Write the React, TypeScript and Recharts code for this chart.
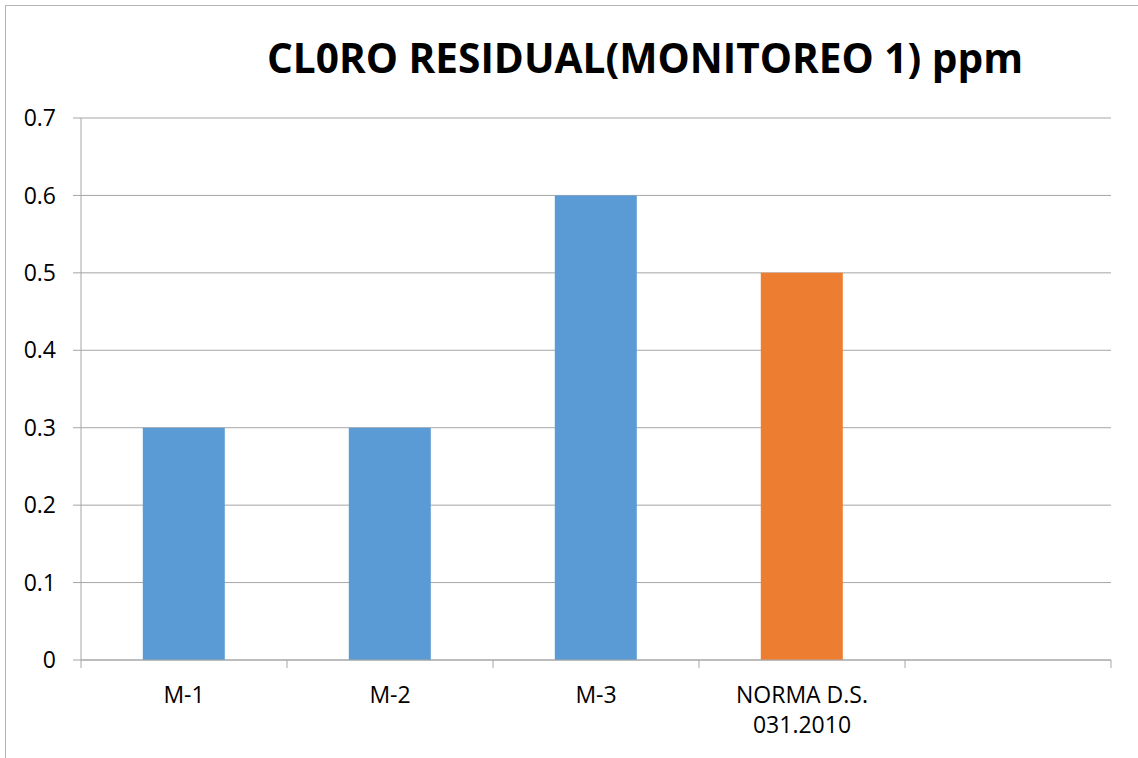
import { BarChart, Bar, XAxis, YAxis, CartesianGrid, Cell } from "recharts"

const CATEGORIES = ["M-1", "M-2", "M-3", "NORMA D.S. 031.2010", ""]
const VALUES = [0.3, 0.3, 0.6, 0.5, null]
const COLORS = ["#5b9bd5", "#5b9bd5", "#5b9bd5", "#ed7d31", "#5b9bd5"]
const Y_TICKS = [0, 0.1, 0.2, 0.3, 0.4, 0.5, 0.6, 0.7]

const data = CATEGORIES.map((name, i) => ({ name, value: VALUES[i] }))

const FONT = "'Open Sans', sans-serif"
const GRID = "#a6a6a6"
const TICK_LEN = 8

function CategoryTick(props: any) {
  const { x, y, payload, width, visibleTicksCount } = props
  const label: string = payload.value || ""
  // half a band, from the axis scale; tick marks sit on the band edges like Excel
  const half =
    payload.offset != null && payload.offset > 0
      ? payload.offset
      : width / (visibleTicksCount || CATEGORIES.length) / 2
  const last = payload.index === (visibleTicksCount || CATEGORIES.length) - 1
  // long labels go on two lines, split at the last space
  let lines = [label]
  if (label.length > 10) {
    const cut = label.lastIndexOf(" ")
    lines = [label.slice(0, cut), label.slice(cut + 1)]
  }
  return (
    <g>
      <line x1={x - half} x2={x - half} y1={y - TICK_LEN} y2={y} stroke={GRID} />
      {last && <line x1={x + half} x2={x + half} y1={y - TICK_LEN} y2={y} stroke={GRID} />}
      <text x={x} y={y} textAnchor="middle" fill="#000" fontSize={23} fontFamily={FONT}>
        {lines.map((l, i) => (
          <tspan key={i} x={x} dy={i === 0 ? 35 : 30}>
            {l}
          </tspan>
        ))}
      </text>
    </g>
  )
}

export default function App() {
  return (
    <div style={{ position: "absolute", left: 0, top: 0, width: 1138, height: 758, overflow: "hidden", background: "#fff" }}>
      <div
        style={{
          position: "absolute",
          left: 5,
          top: 5,
          width: 1160,
          height: 780,
          border: "1px solid #b4b4b4",
        }}
      />
      <div
        style={{
          position: "absolute",
          left: 0,
          top: 33,
          width: 1290,
          textAlign: "center",
          fontFamily: FONT,
          fontWeight: 700,
          fontSize: 40.6,
          lineHeight: "50px",
          color: "#000",
          whiteSpace: "nowrap",
        }}
      >
        CL0RO RESIDUAL(MONITOREO 1) ppm
      </div>
      <div style={{ position: "absolute", left: 0, top: 0 }}>
        <BarChart
          width={1138}
          height={758}
          data={data}
          margin={{ top: 118, right: 27, bottom: 0, left: 0 }}
          barCategoryGap="30%"
        >
          <CartesianGrid vertical={false} stroke={GRID} />
          <XAxis
            dataKey="name"
            height={98}
            stroke={GRID}
            tickLine={false}
            tickSize={TICK_LEN}
            tickMargin={0}
            tick={<CategoryTick />}
            interval={0}
          />
          <YAxis
            width={81}
            domain={[0, 0.7]}
            ticks={Y_TICKS}
            stroke={GRID}
            tickSize={TICK_LEN}
            tickMargin={17}
            tick={{ fill: "#000", fontSize: 23, fontFamily: FONT }}
          />
          <Bar dataKey="value" isAnimationActive={false}>
            {data.map((d, i) => (
              <Cell key={d.name + i} fill={COLORS[i]} />
            ))}
          </Bar>
        </BarChart>
      </div>
    </div>
  )
}
